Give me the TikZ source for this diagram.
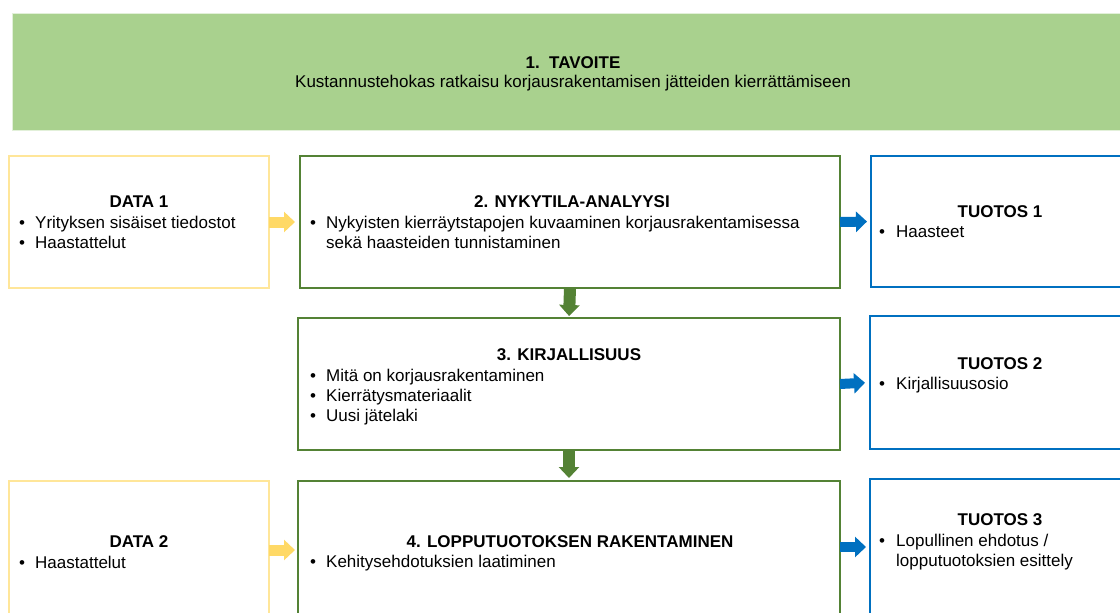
\documentclass[tikz,border=0pt]{standalone}
\usepackage{fontspec}
\setmainfont{Liberation Sans}
\usetikzlibrary{arrows.meta}
\definecolor{goalfill}{HTML}{A9D18E}
\definecolor{goalline}{HTML}{E2F0D9}
\definecolor{yline}{HTML}{FFE699}
\definecolor{yarr}{HTML}{FFD966}
\definecolor{gline}{HTML}{548235}
\definecolor{bline}{HTML}{0070C0}
\tikzset{
  box/.style={draw, line width=1.6pt, inner sep=0pt, outer sep=0pt},
  databox/.style={box, draw=yline},
  stepbox/.style={box, draw=gline},
  outbox/.style={box, draw=bline},
  txt/.style={font=\fontsize{17}{20}\selectfont, inner sep=0pt, anchor=base west},
  ttl/.style={font=\bfseries\fontsize{17}{20}\selectfont, inner sep=0pt, anchor=base},
  blockarrow/.style={line width=11pt, line cap=butt, -{Triangle[width=20pt,length=11pt]}},
  yarrow/.style={blockarrow, draw=yarr},
  garrow/.style={blockarrow, line width=12pt, draw=gline},
  barrow/.style={blockarrow, line width=10pt, draw=bline},
}
\begin{document}
\begin{tikzpicture}[x=1pt,y=-1pt]
\useasboundingbox (0,0) rectangle (1120,613);
\clip (0,0) rectangle (1120,613);

% goal
\node[draw=goalline, line width=0.8pt, fill=goalfill, inner sep=0pt, minimum width=1122pt, minimum height=117pt] (goal) at (573,71.5) {};
\node[ttl] (g1) at (573,68) {1.\ \ TAVOITE};
\node[txt, anchor=base] (g2) at (573,87) {Kustannustehokas ratkaisu korjausrakentamisen jätteiden kierrättämiseen};

% boxes
\node[databox, minimum width=260pt, minimum height=132pt] (d1) at (139,222) {};
\node[stepbox, minimum width=540pt, minimum height=132pt] (b2) at (570,222) {};
\node[outbox, minimum width=259pt, minimum height=131pt] (t1) at (1000.5,221.5) {};
\node[stepbox, minimum width=542pt, minimum height=132pt] (b3) at (569,384) {};
\node[outbox, minimum width=260pt, minimum height=133pt] (t2) at (1000,382.5) {};
\node[databox, minimum width=260pt, minimum height=138pt] (d2) at (139,550) {};
\node[stepbox, minimum width=542pt, minimum height=138pt] (b4) at (569,550) {};
\node[outbox, minimum width=260pt, minimum height=136pt] (t3) at (1000,547) {};

% arrows
\draw[yarrow, shorten >=5pt] (d1.east) -- (b2.west);
\draw[barrow, shorten >=4pt] (b2.east) -- (t1.west);
\draw[garrow, shorten >=2pt] (b2.south) -- (b3.north);
\draw[barrow, shorten >=5pt] (b3.east) -- (t2.west);
\draw[garrow, shorten >=3pt] (b3.south) -- (b4.north);
\draw[yarrow, shorten >=3pt] (d2.east) -- (b4.west);
\draw[barrow, shorten >=4pt] (b4.east |- t3.west) -- (t3.west);

% DATA 1
\node[ttl] (d1h) at (139,207) {DATA 1};
\node[txt] (d1p1) at (19,228) {•};
\node[txt] (d1l1) at (35,228) {Yrityksen sisäiset tiedostot};
\node[txt] (d1p2) at (19,248) {•};
\node[txt] (d1l2) at (35,248) {Haastattelut};

% 2
\node[ttl] (b2h) at (572,207) {2. NYKYTILA-ANALYYSI};
\node[txt] (b2p1) at (310,228) {•};
\node[txt] (b2l1) at (326,228) {Nykyisten kierräytstapojen kuvaaminen korjausrakentamisessa};
\node[txt] (b2l2) at (326,248) {sekä haasteiden tunnistaminen};

% TUOTOS 1
\node[ttl] (t1h) at (1000,217) {TUOTOS 1};
\node[txt] (t1p1) at (879,237) {•};
\node[txt] (t1l1) at (896,237) {Haasteet};

% 3
\node[ttl] (b3h) at (569,360) {3. KIRJALLISUUS};
\node[txt] (b3p1) at (310,381) {•};
\node[txt] (b3l1) at (326,381) {Mitä on korjausrakentaminen};
\node[txt] (b3p2) at (310,401) {•};
\node[txt] (b3l2) at (326,401) {Kierrätysmateriaalit};
\node[txt] (b3p3) at (310,421) {•};
\node[txt] (b3l3) at (326,421) {Uusi jätelaki};

% TUOTOS 2
\node[ttl] (t2h) at (1000,369) {TUOTOS 2};
\node[txt] (t2p1) at (879,389) {•};
\node[txt] (t2l1) at (896,389) {Kirjallisuusosio};

% DATA 2
\node[ttl] (d2h) at (139,547) {DATA 2};
\node[txt] (d2p1) at (19,568) {•};
\node[txt] (d2l1) at (35,568) {Haastattelut};

% 4
\node[ttl] (b4h) at (570,547) {4. LOPPUTUOTOKSEN RAKENTAMINEN};
\node[txt] (b4p1) at (310,567) {•};
\node[txt] (b4l1) at (326,567) {Kehitysehdotuksien laatiminen};

% TUOTOS 3
\node[ttl] (t3h) at (1000,525) {TUOTOS 3};
\node[txt] (t3p1) at (879,546) {•};
\node[txt] (t3l1) at (896,546) {Lopullinen ehdotus /};
\node[txt] (t3l2) at (896,566) {lopputuotoksien esittely};
\end{tikzpicture}
\end{document}
